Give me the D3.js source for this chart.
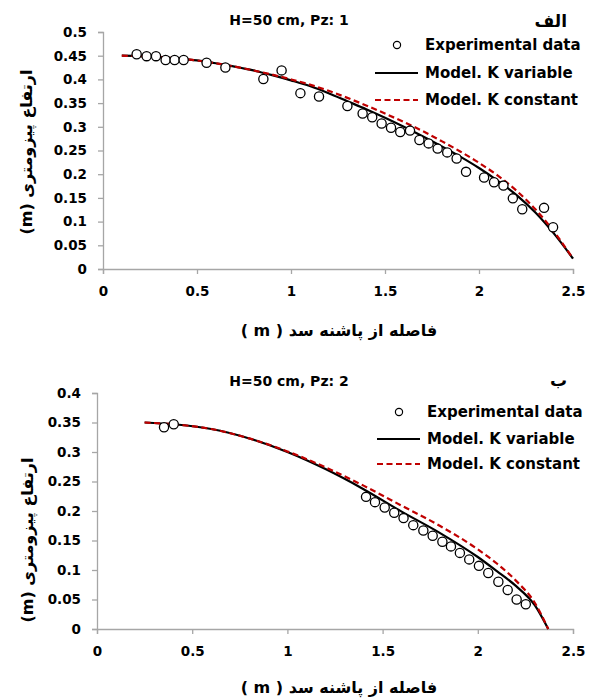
<!DOCTYPE html>
<html>
<head>
<meta charset="utf-8">
<script src="https://cdn.jsdelivr.net/npm/d3@7"></script>
<style>
  body { margin: 0; background: #fff; }
  svg text { font-family: "DejaVu Sans", sans-serif; font-weight: bold; fill: #000; }
</style>
</head>
<body>
<div id="chart"></div>
<script>
// panel 1 (Pz: 1) experimental points
const exp1X = [0.179, 0.232, 0.282, 0.333, 0.381, 0.429, 0.551, 0.651, 0.853, 0.950, 1.050, 1.149,
  1.300, 1.381, 1.432, 1.482, 1.532, 1.581, 1.633, 1.683, 1.732, 1.780, 1.831, 1.881, 1.931,
  2.027, 2.080, 2.130, 2.180, 2.230, 2.346, 2.394];
const exp1Y = [0.453, 0.449, 0.449, 0.441, 0.441, 0.441, 0.435, 0.425, 0.401, 0.419, 0.371, 0.364,
  0.344, 0.328, 0.320, 0.307, 0.298, 0.289, 0.292, 0.272, 0.265, 0.254, 0.246, 0.233, 0.205,
  0.193, 0.183, 0.176, 0.149, 0.126, 0.129, 0.088];
// panel 1 model curves
const model1X = [0.1, 0.2, 0.3, 0.4, 0.5, 0.6, 0.7, 0.8, 0.9, 1.0, 1.1, 1.2, 1.3, 1.4, 1.5, 1.6, 1.7,
  1.8, 1.9, 2.0, 2.1, 2.2, 2.3, 2.4, 2.5];
const kVar1 = [0.450, 0.449, 0.447, 0.444, 0.440, 0.434, 0.427, 0.419, 0.409, 0.398, 0.386, 0.371,
  0.354, 0.337, 0.319, 0.300, 0.280, 0.259, 0.237, 0.213, 0.186, 0.156, 0.119, 0.074, 0.022];
const kConst1 = [0.450, 0.449, 0.447, 0.444, 0.440, 0.434, 0.427, 0.419, 0.410, 0.400, 0.389, 0.376,
  0.361, 0.345, 0.328, 0.310, 0.291, 0.270, 0.248, 0.224, 0.197, 0.165, 0.126, 0.078, 0.022];

// panel 2 (Pz: 2)
const exp2X = [0.352, 0.403, 1.413, 1.460, 1.511, 1.561, 1.610, 1.661, 1.714, 1.763, 1.814, 1.859,
  1.906, 1.955, 2.006, 2.055, 2.108, 2.157, 2.204, 2.252];
const exp2Y = [0.342, 0.347, 0.224, 0.215, 0.206, 0.197, 0.188, 0.176, 0.167, 0.158, 0.148, 0.140,
  0.129, 0.118, 0.107, 0.095, 0.080, 0.066, 0.050, 0.042];
const model2X = [0.25, 0.4, 0.6, 0.8, 1.0, 1.2, 1.4, 1.6, 1.8, 2.0, 2.1, 2.2, 2.3, 2.37];
const kVar2 = [0.350, 0.347, 0.339, 0.323, 0.300, 0.271, 0.237, 0.199, 0.163, 0.122, 0.098, 0.073, 0.040, 0];
const kConst2 = [0.350, 0.347, 0.339, 0.323, 0.301, 0.274, 0.243, 0.209, 0.175, 0.135, 0.111, 0.082, 0.044, 0];

const xTicks = [0, 0.5, 1, 1.5, 2, 2.5];
const yTicks1 = [0, 0.05, 0.1, 0.15, 0.2, 0.25, 0.3, 0.35, 0.4, 0.45, 0.5];
const yTicks2 = [0, 0.05, 0.1, 0.15, 0.2, 0.25, 0.3, 0.35, 0.4];

const legendNames = ["Experimental data", "Model. K variable", "Model. K constant"];
const xTitle = "فاصله از پاشنه سد ( m )";
const yTitle = "ارتفاع پیزومتری (m)";

const svg = d3.select("#chart").append("svg")
  .attr("width", 592)
  .attr("height", 699);

function drawPanel(p) {
  const g = svg.append("g").attr("transform", "translate(0," + p.top + ")");
  const x = d3.scaleLinear().domain([0, 2.5]).range([p.left, 573]);
  const y = d3.scaleLinear().domain([0, p.yMax]).range([p.height, 0]);

  const xAxis = g.append("g")
    .attr("transform", "translate(0," + p.height + ")")
    .call(d3.axisBottom(x).tickValues(xTicks).tickSize(5).tickPadding(12).tickFormat(d => d));
  const yAxis = g.append("g")
    .attr("transform", "translate(" + p.left + ",0)")
    .call(d3.axisLeft(y).tickValues(p.yTicks).tickSize(5).tickPadding(11).tickFormat(d => d));
  [xAxis, yAxis].forEach(a => {
    a.select(".domain").attr("stroke", "#a6a6a6").attr("stroke-width", 1.3);
    a.selectAll(".tick line").attr("stroke", "#a6a6a6").attr("stroke-width", 1.3);
    a.selectAll(".tick text").attr("font-size", 13.5).attr("font-family", "DejaVu Sans")
      .attr("font-weight", "bold").attr("fill", "#000");
  });

  const line = d3.line().x(d => x(d[0])).y(d => y(d[1])).curve(d3.curveMonotoneX);
  g.append("path")
    .datum(p.mx.map((v, i) => [v, p.kv[i]]))
    .attr("d", line).attr("fill", "none").attr("stroke", "#000").attr("stroke-width", 2.2);
  g.append("path")
    .datum(p.mx.map((v, i) => [v, p.kc[i]]))
    .attr("d", line).attr("fill", "none").attr("stroke", "#c00000")
    .attr("stroke-width", 2.2).attr("stroke-dasharray", "6,3.5");

  g.selectAll("circle.pt")
    .data(p.ex.map((v, i) => [v, p.ey[i]]))
    .enter().append("circle")
    .attr("class", "pt")
    .attr("cx", d => x(d[0])).attr("cy", d => y(d[1]))
    .attr("r", 4.6).attr("fill", "#fff").attr("stroke", "#000").attr("stroke-width", 1.3);

  // titles
  g.append("text").attr("x", 289).attr("y", p.titleY).attr("text-anchor", "middle")
    .attr("font-size", 14).text(p.title);
  g.append("text").attr("x", 567).attr("y", p.tagY).attr("text-anchor", "end")
    .attr("font-size", 17).text(p.tag);
  g.append("text").attr("x", 339).attr("y", p.height + p.xTitleDy).attr("text-anchor", "middle")
    .attr("font-size", 16).attr("direction", "rtl").style("unicode-bidi", "plaintext").text(xTitle);
  g.append("text")
    .attr("transform", "translate(" + p.yTitleX + "," + p.yTitleY + ") rotate(-90)")
    .attr("text-anchor", "middle").attr("dominant-baseline", "middle")
    .attr("font-size", 16).style("unicode-bidi", "plaintext").text(yTitle);

  // legend
  const lg = g.append("g");
  p.legY.forEach((ly, i) => {
    if (i === 0) {
      lg.append("circle").attr("cx", p.legX - 28).attr("cy", ly).attr("r", 3.6)
        .attr("fill", "#fff").attr("stroke", "#000").attr("stroke-width", 1.2);
    } else {
      lg.append("line").attr("x1", p.legX - 50).attr("x2", p.legX - 7).attr("y1", ly).attr("y2", ly)
        .attr("stroke", i === 1 ? "#000" : "#c00000").attr("stroke-width", 2.2)
        .attr("stroke-dasharray", i === 1 ? null : "6,3.5");
    }
    lg.append("text").attr("x", p.legX).attr("y", ly).attr("dominant-baseline", "middle")
      .attr("font-size", 15).text(legendNames[i]);
  });
}

drawPanel({
  top: 32, height: 237, left: 103, yMax: 0.5, yTicks: yTicks1,
  ex: exp1X, ey: exp1Y, mx: model1X, kv: kVar1, kc: kConst1,
  title: "H=50 cm, Pz: 1", titleY: -7, tag: "الف", tagY: -5, xTitleDy: 67,
  yTitleX: 27, yTitleY: 120, legX: 425, legY: [13, 41, 68]
});
drawPanel({
  top: 393, height: 236, left: 97, yMax: 0.4, yTicks: yTicks2,
  ex: exp2X, ey: exp2Y, mx: model2X, kv: kVar2, kc: kConst2,
  title: "H=50 cm, Pz: 2", titleY: -7, tag: "ب", tagY: -7, xTitleDy: 64,
  yTitleX: 28, yTitleY: 147, legX: 427, legY: [19, 46, 71]
});
</script>
</body>
</html>
